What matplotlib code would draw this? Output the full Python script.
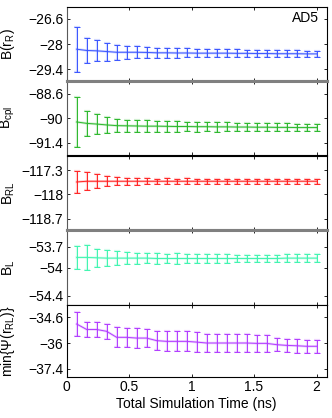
import matplotlib
matplotlib.use("Agg")
import matplotlib.pyplot as plt

plt.rcParams['font.family'] = ['Liberation Sans', 'DejaVu Sans']
plt.rcParams['mathtext.fontset'] = 'custom'
plt.rcParams['mathtext.rm'] = 'Liberation Sans'
plt.rcParams['font.size'] = 10

# simulation time (ns)
t = [0.08, 0.16, 0.24, 0.32, 0.40, 0.48, 0.56, 0.64, 0.72, 0.80,
     0.88, 0.96, 1.04, 1.12, 1.20, 1.28, 1.36, 1.44, 1.52, 1.60,
     1.68, 1.76, 1.84, 1.92, 2.00]

# B(r_R)
b_r = [-28.28, -28.35, -28.37, -28.41, -28.45, -28.45, -28.45, -28.46, -28.48, -28.48,
       -28.49, -28.49, -28.50, -28.50, -28.50, -28.50, -28.51, -28.51, -28.52, -28.52,
       -28.53, -28.53, -28.53, -28.54, -28.54]
b_r_err = [1.25, 0.69, 0.58, 0.50, 0.42, 0.37, 0.33, 0.29, 0.29, 0.27,
           0.26, 0.25, 0.24, 0.23, 0.23, 0.22, 0.22, 0.21, 0.21, 0.20,
           0.20, 0.19, 0.19, 0.18, 0.18]

# B_cpl
b_cpl = [-90.21, -90.29, -90.33, -90.38, -90.42, -90.43, -90.44, -90.45, -90.45, -90.46,
         -90.47, -90.47, -90.48, -90.48, -90.49, -90.49, -90.50, -90.50, -90.51, -90.51,
         -90.52, -90.52, -90.53, -90.53, -90.53]
b_cpl_err = [1.41, 0.71, 0.58, 0.48, 0.38, 0.35, 0.34, 0.33, 0.32, 0.30,
             0.29, 0.28, 0.28, 0.27, 0.27, 0.26, 0.25, 0.25, 0.24, 0.24,
             0.23, 0.23, 0.22, 0.22, 0.22]

# B_RL
b_rl = [-117.64, -117.62, -117.62, -117.62, -117.62, -117.62, -117.62, -117.62, -117.62, -117.62,
        -117.62, -117.62, -117.62, -117.62, -117.62, -117.62, -117.62, -117.62, -117.62, -117.62,
        -117.62, -117.62, -117.62, -117.62, -117.62]
b_rl_err = [0.33, 0.26, 0.20, 0.15, 0.115, 0.095, 0.095, 0.08, 0.075, 0.08,
            0.075, 0.08, 0.07, 0.07, 0.07, 0.075, 0.07, 0.07, 0.07, 0.065,
            0.065, 0.065, 0.065, 0.065, 0.065]

# B_L
b_l = [-53.85, -53.85, -53.855, -53.86, -53.86, -53.86, -53.86, -53.86, -53.865, -53.865,
       -53.865, -53.865, -53.865, -53.865, -53.865, -53.865, -53.865, -53.865, -53.865, -53.865,
       -53.865, -53.86, -53.86, -53.86, -53.86]
b_l_err = [0.167, 0.176, 0.13, 0.11, 0.10, 0.09, 0.08, 0.07, 0.075, 0.07,
           0.075, 0.065, 0.065, 0.07, 0.07, 0.07, 0.055, 0.055, 0.055, 0.055,
           0.055, 0.06, 0.06, 0.06, 0.06]

# min{Psi(r_RL)}
psi = [-34.96, -35.26, -35.26, -35.36, -35.69, -35.69, -35.73, -35.73, -35.87, -35.91,
       -35.91, -35.91, -35.95, -36.00, -36.00, -36.00, -36.00, -36.00, -36.02, -36.02,
       -36.09, -36.13, -36.15, -36.18, -36.18]
psi_err = [0.64, 0.41, 0.41, 0.40, 0.55, 0.53, 0.53, 0.50, 0.50, 0.55,
           0.55, 0.55, 0.55, 0.50, 0.48, 0.48, 0.48, 0.48, 0.48, 0.48,
           0.37, 0.37, 0.37, 0.37, 0.37]

ylabels = [r'$\mathregular{B(r_R)}$', r'$\mathregular{B_{cpl}}$', r'$\mathregular{B_{RL}}$',
           r'$\mathregular{B_L}$', r'$\mathregular{min\{\Psi(r_{RL})\}}$']
yticks = [[-29.4, -28, -26.6], [-91.4, -90, -88.6], [-118.7, -118, -117.3],
          [-54.4, -54, -53.7], [-37.4, -36, -34.6]]
yticklabels = [['\u221229.4', '\u221228', '\u221226.6'], ['\u221291.4', '\u221290', '\u221288.6'],
               ['\u2212118.7', '\u2212118', '\u2212117.3'], ['\u221254.4', '\u221254', '\u221253.7'],
               ['\u221237.4', '\u221236', '\u221234.6']]
ylims = [(-30.02, -25.95), (-92.07, -87.84), (-119.02, -116.90), (-54.53, -53.455), (-37.86, -33.92)]
xticks = [0, 0.5, 1, 1.5, 2]
xticklabels = ['0', '0.5', '1', '1.5', '2']

series = [(b_r, b_r_err), (b_cpl, b_cpl_err), (b_rl, b_rl_err), (b_l, b_l_err), (psi, psi_err)]
colors = ['#3a55ff', '#2cb82c', '#ff2424', '#3ff5b0', '#b23cff']

W, H = 332, 418
fig = plt.figure(figsize=(W / 100, H / 100), dpi=100)

# panel edges in pixels (top, bottom)
edges = [(7.3, 80.5), (80.5, 154.5), (156.3, 229.8), (229.8, 305), (305, 377)]
left, right = 66.7, 326.5

axes = []
for i, (top, bot) in enumerate(edges):
    ax = fig.add_axes([left / W, 1 - bot / H, (right - left) / W, (bot - top) / H])
    y, e = series[i]
    c = colors[i]
    # soft under-layer
    ax.errorbar(t, y, yerr=e, color=c, alpha=0.22, lw=1.8, elinewidth=1.6, capsize=2.0, capthick=1.6)
    ax.errorbar(t, y, yerr=e, color=c, lw=0.7, elinewidth=0.7, capsize=2.0, capthick=0.7)
    ax.set_xlim(0, 2.08)
    ax.set_ylim(*ylims[i])
    ax.set_yticks(yticks[i])
    ax.set_yticklabels(yticklabels[i])
    ax.set_xticks(xticks)
    ax.tick_params(direction='in', length=2.2, width=0.6, top=True, right=True, pad=2.5, labelsize=10)
    ax.set_ylabel(ylabels[i], fontsize=10)
    ax.yaxis.set_label_coords(-0.19, 0.5)
    for s in ax.spines.values():
        s.set_linewidth(0.8)
    ax.spines['left'].set_color('0.35')
    if i < 4:
        ax.set_xticklabels([])
    else:
        ax.set_xticklabels(xticklabels)
        ax.set_xlabel('Total Simulation Time (ns)', fontsize=10, labelpad=2)
        ax.spines['left'].set_color('black')
    axes.append(ax)

# grey bands between panels 1-2 and 3-4
for a, b in [(0, 1), (2, 3)]:
    axes[a].spines['bottom'].set_color('0.5')
    axes[a].spines['bottom'].set_linewidth(2.2)
    axes[b].spines['top'].set_color('0.5')
    axes[b].spines['top'].set_linewidth(2.2)

axes[0].text(0.97, 0.95, 'AD5', transform=axes[0].transAxes, ha='right', va='top', fontsize=10)

fig.savefig('out.png', dpi=100)
